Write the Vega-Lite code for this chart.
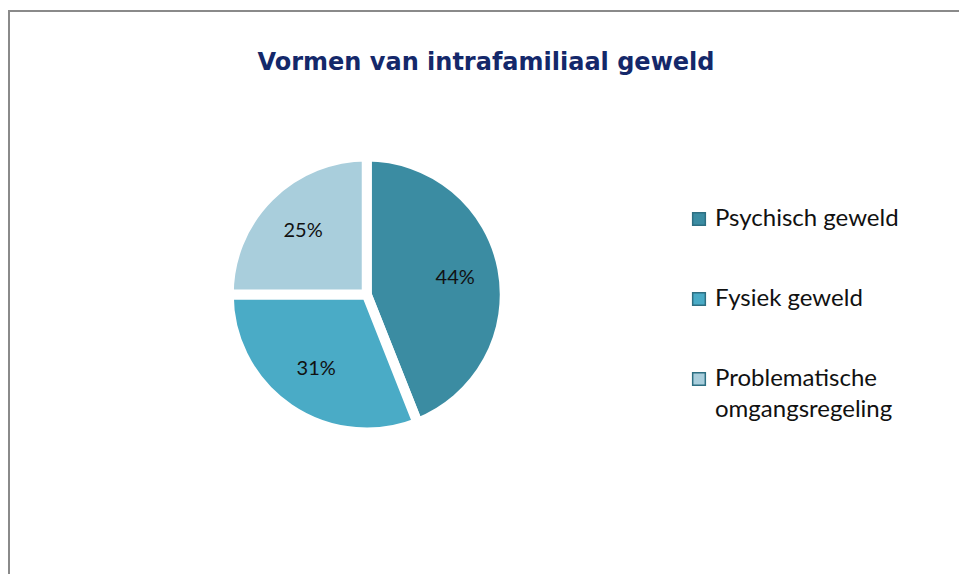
{
  "$schema": "https://vega.github.io/schema/vega-lite/v6.json",
  "width": 959,
  "height": 574,
  "autosize": {"type": "fit", "contains": "padding"},
  "padding": {"left": 9, "top": 11, "right": -4, "bottom": -4},
  "background": "white",
  "view": {"stroke": "#8a8a8a", "strokeWidth": 2},
  "config": {"style": {"guide-label": {"lineHeight": 31}}},
  "title": {
    "text": "Vormen van intrafamiliaal geweld",
    "font": "DejaVu Sans",
    "fontSize": 24,
    "fontWeight": "bold",
    "color": "#14286a",
    "anchor": "middle",
    "frame": "group",
    "offset": -64
  },
  "data": {
    "values": [
      {"categorie": "Psychisch geweld", "pct": 44, "label": "44%", "order": 1},
      {"categorie": "Fysiek geweld", "pct": 31, "label": "31%", "order": 2},
      {"categorie": "Problematische omgangsregeling", "pct": 25, "label": "25%", "order": 3}
    ]
  },
  "encoding": {
    "theta": {"field": "pct", "type": "quantitative", "stack": true},
    "order": {"field": "order", "type": "quantitative"},
    "color": {
      "field": "categorie",
      "type": "nominal",
      "sort": ["Psychisch geweld", "Fysiek geweld", "Problematische omgangsregeling"],
      "scale": {
        "domain": ["Psychisch geweld", "Fysiek geweld", "Problematische omgangsregeling"],
        "range": ["#3b8ca2", "#4aabc6", "#a9cedc"]
      },
      "legend": {
        "title": null,
        "orient": "none",
        "legendX": 678,
        "legendY": 196,
        "symbolType": "square",
        "symbolSize": 160,
        "symbolStrokeColor": "#2d6f82",
        "symbolStrokeWidth": 1.5,
        "labelFont": "Lato",
        "labelFontSize": 24,
        "labelColor": "#111111",
        "labelLimit": 300,
        "rowPadding": 56,
        "labelExpr": "datum.label == 'Problematische omgangsregeling' ? ['Problematische', 'omgangsregeling'] : datum.label"
      }
    }
  },
  "layer": [
    {
      "mark": {
        "type": "arc",
        "outerRadius": 138,
        "stroke": "white",
        "strokeWidth": 10,
        "x": {"expr": "width * 0.375"},
        "y": {"expr": "height * 0.5"}
      }
    },
    {
      "mark": {
        "type": "text",
        "radius": 90,
        "font": "Lato",
        "fontSize": 20,
        "color": "#111111",
        "x": {"expr": "width * 0.375"},
        "y": {"expr": "height * 0.5"}
      },
      "encoding": {
        "text": {"field": "label", "type": "nominal"},
        "color": {"value": "#111111"}
      }
    }
  ]
}
